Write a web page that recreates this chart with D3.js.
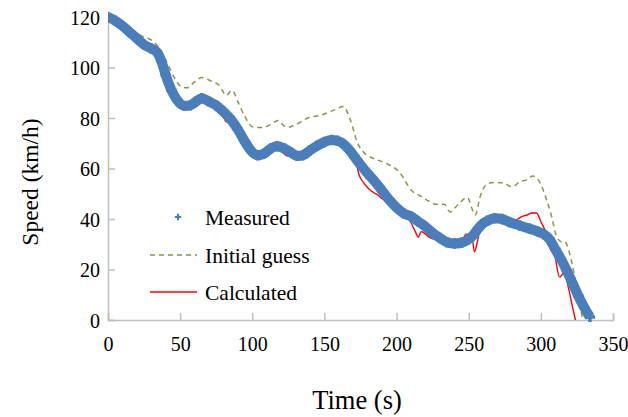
<!DOCTYPE html>
<html><head><meta charset="utf-8">
<script src="https://cdn.jsdelivr.net/npm/d3@7/dist/d3.min.js"></script>
<style>body{margin:0;background:#fff;} svg{display:block;font-family:"Liberation Serif","Times New Roman",serif;}</style>
</head><body>
<svg id="c" width="628" height="417"></svg>
<script>
const xTicks = [0,50,100,150,200,250,300,350];
const yTicks = [0,20,40,60,80,100,120];
const seriesNames = ["Measured","Initial guess","Calculated"];

const measuredT = [0,5,10,15,20,25,30,34,37,40,44,48,53,57,61,65,70,75,80,85,90,95,100,104,108,113,117,122,127,131,135,140,145,150,155,159,163,167,171,175,180,185,190,195,200,205,210,215,220,225,230,235,240,245,250,253,256,259,263,268,273,278,285,292,298,302,306,310,314,318,322,326,330,334];
const measuredV = [120,118.5,116.5,114,111.5,109,107.5,106,102.5,97,91,87,84.8,85,86.5,87.8,86.5,85,82.5,79.5,75.5,70.5,66.5,65.2,65.8,68,68.8,68,66.3,65,65.2,67.2,69,70.5,71.3,71,69.8,67.5,64.5,61.5,58,54.8,51.2,47.5,44.5,42.2,41,39,37,34.5,32.5,30.8,30.3,30.6,32,33.5,35.8,37.8,39.3,40.3,40,38.8,37.5,36.2,35,34,32,28,24,19.5,14.5,9.5,5,1.2];

const guessT = [0,5,10,15,20,25,28,32,37,41,46,51,55,60,65,72,77,82,86,90,95,100.5,107,112,118,121.5,124,129.5,138.5,148,157,163,168,173,177,184,193,202,210.5,216,221,228,233,237,243,249,254.5,258,262,267,274,280,285.5,290,294.5,299.5,304,307,311,314.5,316.5,321.5,325.5,329];
const guessV = [120,118.5,116.5,115,113.5,112,111.5,110,106,101.8,96,92.3,92,94.3,96,94.5,93,89,91,86.5,80.4,76.4,76.2,77.2,79,77.2,76.2,77.2,80,81.2,83.2,84.6,79.2,70,66.5,64,62,58.5,51.2,49.3,47.5,45.8,45.8,42.8,46,48.5,41.6,49,53.5,54.5,54.3,52.7,54.7,55.5,57,54.3,47.5,42,33,31,31,22.6,10.7,0];

const calcT = [0,5,10,15,20,25,30,34,37,40,44,48,53,57,61,65,70,75,78,80,82,84,87,90,95,100,104,108,113,117,121,124,127,131,135,138,142,146,150,155,159,163,167,170,172,174,177,181,184,187,190,193,196,200,205,208,210,213,215,217,219,222,226,230,235,240,245,248,252,254,256,258,260,263,268,273,278,281,284,287,290,294,297,300,303,306,309,313,316,319,322,324];
const calcV = [120,118.5,116.5,114,111.5,109,107.5,106,102.5,97,91,87,84.8,85,86.5,87.8,86.5,85,83.5,80.5,78.5,79.8,78.5,75.5,70.5,66.5,65.2,65.8,68,68.8,66.5,65,64.8,64.5,65.5,67.2,68.3,69.3,70.5,71.3,71,69.8,67.5,65,62,57.5,54.5,51.8,50.5,49.5,48,47,46.5,44.5,42.2,40.5,38.6,35,32.8,35,34.5,33,32,31.5,30.8,30.3,30.8,34,33.8,27,31,36.5,38.3,39.3,40.3,40,38.8,39.2,40,41,41.5,42.4,42.4,39,35.5,32,27.7,17,18.6,13,5,0];

const W = 628, H = 417;
const L = 108, T = 17, R = 613, B = 320;
const svg = d3.select("#c");
const x = d3.scaleLinear().domain([0,350]).range([L,R]);
const y = d3.scaleLinear().domain([0,120]).range([B,T]);
const axisColor = "#bfbfbf";

const gx = svg.append("g").attr("transform",`translate(0,${B})`)
  .call(d3.axisBottom(x).tickValues(xTicks).tickSize(-7).tickPadding(17).tickFormat(d3.format("d")));
const gy = svg.append("g").attr("transform",`translate(${L},0)`)
  .call(d3.axisLeft(y).tickValues(yTicks).tickSize(-7).tickPadding(8).tickFormat(d3.format("d")));
[gx,gy].forEach(g=>{
  g.select(".domain").attr("stroke",axisColor).attr("stroke-width",1.5);
  g.selectAll(".tick line").attr("stroke",axisColor).attr("stroke-width",1.5);
  g.selectAll(".tick text").attr("fill","#000").style("font-size","20px").style("font-family","Liberation Serif");
});
gy.selectAll(".tick text").attr("dy","0.35em");

svg.append("clipPath").attr("id","pc").append("rect")
  .attr("x",L).attr("y",T-10).attr("width",R-L+10).attr("height",B-T+12);
const plot = svg.append("g").attr("clip-path","url(#pc)");

const mData = measuredT.map((t,i)=>[t,measuredV[i]]);
const gData = guessT.map((t,i)=>[t,guessV[i]]);
const cData = calcT.map((t,i)=>[t,calcV[i]]);

const line = d3.line().x(d=>x(d[0])).y(d=>y(d[1])).curve(d3.curveMonotoneX);
const blue = "#4a7ebb";

// Initial guess
plot.append("path").datum(gData).attr("d",line).attr("fill","none")
  .attr("stroke","#7e9b4a").attr("stroke-width",1.5).attr("stroke-dasharray","5,4");

// Calculated
plot.append("path").datum(cData).attr("d",line).attr("fill","none")
  .attr("stroke","#ff0000").attr("stroke-width",1.4);

// Measured: dense plus markers form a thick band
plot.append("path").datum(mData).attr("d",line).attr("fill","none")
  .attr("stroke",blue).attr("stroke-width",10).attr("stroke-linejoin","round").attr("stroke-linecap","butt");
const cross = d3.symbol().type(d3.symbolCross).size(60);
plot.selectAll(".m").data(mData).enter().append("path")
  .attr("d",cross).attr("fill",blue)
  .attr("transform",d=>`translate(${x(d[0])},${y(d[1])})`);

// legend
const lg = svg.append("g").style("font-family","Liberation Serif").style("font-size","21.5px");
const ly = [217,255,292];
lg.append("path").attr("d",d3.symbol().type(d3.symbolCross).size(22)).attr("fill",blue)
  .attr("transform",`translate(178,${ly[0]})`);
lg.append("line").attr("x1",150).attr("x2",197).attr("y1",ly[1]).attr("y2",ly[1])
  .attr("stroke","#7e9b4a").attr("stroke-width",1.5).attr("stroke-dasharray","5,4");
lg.append("line").attr("x1",150).attr("x2",197).attr("y1",ly[2]).attr("y2",ly[2])
  .attr("stroke","#ff0000").attr("stroke-width",1.5);
seriesNames.forEach((n,i)=>{
  lg.append("text").attr("x",205).attr("y",ly[i]).attr("dy","0.35em").text(n);
});

// axis titles
svg.append("text").attr("x",357).attr("y",400).attr("dy","0.35em").attr("text-anchor","middle")
  .style("font-size","26.5px").text("Time (s)");
svg.append("text").attr("transform","translate(30,182) rotate(-90)").attr("dy","0.35em").attr("text-anchor","middle")
  .style("font-size","23.5px").text("Speed (km/h)");
</script>
</body></html>
